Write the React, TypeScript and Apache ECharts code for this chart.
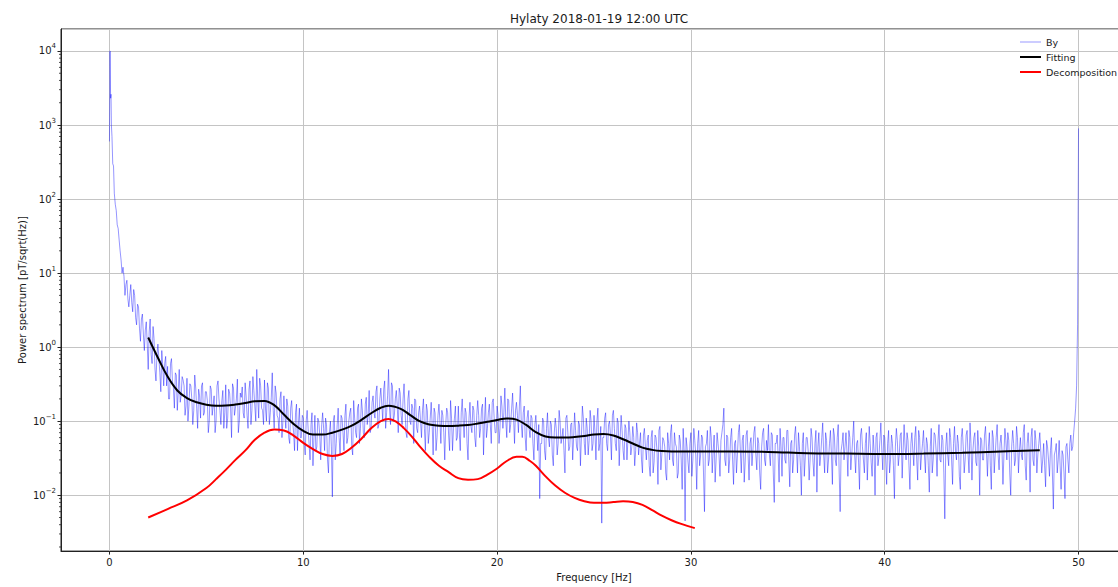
import React, { useEffect, useRef } from "react";
import * as echarts from "echarts";

const TITLE = "Hylaty 2018-01-19 12:00 UTC";
const X_NAME = "Frequency [Hz]";
const Y_NAME = "Power spectrum [pT/sqrt(Hz)]";
const X_MIN = -2.5;
const X_MAX = 52.5;
const Y_MIN = 0.00176;
const Y_MAX = 19800;

// By spectrum: fine head near 0 Hz, then values at 0.5, 0.6, ... 50.0 Hz (byVal)
// and at 0.55, 0.65, ... 49.95 Hz (byValMid)
const byHeadFreq = [0, 0.03, 0.06, 0.08, 0.1, 0.13, 0.17, 0.21, 0.25, 0.3, 0.35, 0.4, 0.45];
const byHeadVal = [600, 10000, 2300, 2600, 1000, 700, 300, 280, 120, 85, 70, 45, 40];
const byStart = 0.5;
const byStep = 0.1;
const byVal = [
  28, 15, 12, 5, 8,
  3.5, 7, 3, 5, 2, 3.5, 1.2, 2.8, 0.9, 2.2,
  0.5, 2.4, 0.6, 1.3, 0.35, 1.1, 0.45, 0.9, 0.3, 0.75,
  0.55, 0.2, 0.7, 0.28, 0.45, 0.14, 0.5, 0.22, 0.36, 0.12,
  0.38, 0.16, 0.3, 0.09, 0.42, 0.15, 0.27, 0.11, 0.33, 0.13,
  0.25, 0.07, 0.3, 0.12, 0.22, 0.1, 0.35, 0.14, 0.19, 0.08,
  0.31, 0.11, 0.24, 0.06, 0.28, 0.15, 0.37, 0.1, 0.21, 0.13,
  0.33, 0.12, 0.27, 0.09, 0.4, 0.16, 0.5, 0.11, 0.3, 0.14,
  0.36, 0.1, 0.28, 0.13, 0.45, 0.08, 0.24, 0.11, 0.2, 0.06,
  0.22, 0.08, 0.16, 0.05, 0.19, 0.07, 0.13, 0.04, 0.15, 0.06,
  0.11, 0.035, 0.14, 0.05, 0.09, 0.025, 0.12, 0.045, 0.1, 0.03,
  0.13, 0.04, 0.09, 0.02, 0.1, 0.0095, 0.12, 0.05, 0.15, 0.035,
  0.11, 0.04, 0.17, 0.06, 0.13, 0.045, 0.19, 0.07, 0.15, 0.05,
  0.2, 0.07, 0.17, 0.09, 0.26, 0.08, 0.22, 0.11, 0.3, 0.09,
  0.28, 0.1, 0.35, 0.13, 0.5, 0.09, 0.3, 0.12, 0.26, 0.07,
  0.24, 0.09, 0.32, 0.07, 0.2, 0.1, 0.17, 0.05, 0.19, 0.07,
  0.16, 0.06, 0.2, 0.04, 0.14, 0.07, 0.18, 0.035, 0.13, 0.06,
  0.17, 0.05, 0.12, 0.03, 0.15, 0.065, 0.19, 0.04, 0.11, 0.055,
  0.16, 0.04, 0.2, 0.06, 0.13, 0.03, 0.18, 0.07, 0.14, 0.045,
  0.19, 0.06, 0.15, 0.035, 0.21, 0.08, 0.17, 0.05, 0.2, 0.07,
  0.16, 0.05, 0.22, 0.08, 0.28, 0.06, 0.19, 0.09, 0.24, 0.05,
  0.18, 0.07, 0.3, 0.06, 0.16, 0.04, 0.14, 0.06, 0.11, 0.03,
  0.12, 0.04, 0.009, 0.05, 0.1, 0.03, 0.13, 0.045, 0.09, 0.025,
  0.11, 0.035, 0.14, 0.05, 0.08, 0.02, 0.12, 0.04, 0.09, 0.03,
  0.13, 0.045, 0.1, 0.025, 0.16, 0.05, 0.11, 0.035, 0.14, 0.04,
  0.12, 0.03, 0.15, 0.05, 0.0042, 0.06, 0.13, 0.04, 0.1, 0.03,
  0.14, 0.05, 0.11, 0.025, 0.12, 0.04, 0.09, 0.03, 0.1, 0.035,
  0.085, 0.025, 0.095, 0.035, 0.07, 0.02, 0.08, 0.03, 0.065, 0.018,
  0.075, 0.028, 0.06, 0.014, 0.085, 0.035, 0.055, 0.02, 0.07, 0.03,
  0.09, 0.025, 0.05, 0.017, 0.065, 0.03, 0.08, 0.0045, 0.045, 0.02,
  0.07, 0.03, 0.055, 0.012, 0.075, 0.035, 0.06, 0.006, 0.05, 0.025,
  0.085, 0.02, 0.065, 0.03, 0.05, 0.018, 0.07, 0.15, 0.025, 0.06,
  0.03, 0.08, 0.014, 0.055, 0.035, 0.09, 0.02, 0.065, 0.028, 0.075,
  0.016, 0.06, 0.04, 0.085, 0.022, 0.05, 0.012, 0.07, 0.03, 0.055,
  0.09, 0.025, 0.065, 0.008, 0.05, 0.035, 0.08, 0.018, 0.06, 0.027,
  0.075, 0.013, 0.055, 0.03, 0.085, 0.02, 0.045, 0.01, 0.07, 0.032,
  0.06, 0.016, 0.08, 0.028, 0.05, 0.011, 0.07, 0.035, 0.095, 0.02,
  0.055, 0.03, 0.075, 0.014, 0.065, 0.025, 0.09, 0.006, 0.05, 0.03,
  0.07, 0.018, 0.06, 0.035, 0.1, 0.02, 0.055, 0.012, 0.08, 0.03,
  0.05, 0.016, 0.085, 0.028, 0.065, 0.01, 0.07, 0.033, 0.095, 0.022,
  0.06, 0.014, 0.075, 0.03, 0.05, 0.009, 0.08, 0.025, 0.065, 0.017,
  0.09, 0.03, 0.055, 0.012, 0.07, 0.025, 0.085, 0.016, 0.06, 0.035,
  0.075, 0.02, 0.05, 0.011, 0.08, 0.03, 0.065, 0.018, 0.09, 0.028,
  0.055, 0.0048, 0.07, 0.025, 0.06, 0.014, 0.085, 0.03, 0.05, 0.012,
  0.08, 0.02, 0.065, 0.035, 0.095, 0.016, 0.06, 0.028, 0.075, 0.01,
  0.055, 0.03, 0.085, 0.018, 0.07, 0.012, 0.06, 0.035, 0.09, 0.022,
  0.065, 0.014, 0.08, 0.03, 0.055, 0.01, 0.075, 0.025, 0.085, 0.02,
  0.06, 0.03, 0.09, 0.016, 0.07, 0.011, 0.08, 0.025, 0.055, 0.035,
  0.07, 0.02, 0.05, 0.013, 0.045, 0.018, 0.06, 0.0065, 0.04, 0.02,
  0.055, 0.012, 0.035, 0.009, 0.05, 0.02, 0.065, 0.045, 0.1, 0.3,
  900,
];
const byValMid = [
  20, 10, 9, 7, 4.5,
  5, 4, 6, 2.5, 3.8, 1.8, 2.4, 1.5, 1.7, 1.1,
  1.6, 0.8, 1.9, 0.5, 0.8, 0.7, 0.25, 0.55, 0.6, 0.3,
  0.2, 0.6, 0.35, 0.15, 0.42, 0.25, 0.18, 0.4, 0.3, 0.16,
  0.1, 0.32, 0.2, 0.14, 0.28, 0.08, 0.22, 0.3, 0.12, 0.25,
  0.19, 0.1, 0.27, 0.16, 0.07, 0.3, 0.2, 0.09, 0.26, 0.13,
  0.08, 0.27, 0.15, 0.32, 0.12, 0.2, 0.07, 0.24, 0.29, 0.11,
  0.22, 0.08, 0.35, 0.14, 0.26, 0.1, 0.2, 0.38, 0.15, 0.09,
  0.15, 0.33, 0.09, 0.21, 0.14, 0.3, 0.12, 0.07, 0.25, 0.1,
  0.12, 0.2, 0.06, 0.15, 0.1, 0.04, 0.17, 0.09, 0.06, 0.12,
  0.05, 0.1, 0.08, 0.03, 0.13, 0.06, 0.04, 0.11, 0.065, 0.09,
  0.08, 0.11, 0.03, 0.07, 0.045, 0.1, 0.03, 0.09, 0.06, 0.12,
  0.07, 0.12, 0.05, 0.1, 0.15, 0.035, 0.11, 0.06, 0.17, 0.08,
  0.14, 0.06, 0.21, 0.12, 0.07, 0.18, 0.13, 0.25, 0.08, 0.2,
  0.17, 0.27, 0.08, 0.22, 0.15, 0.33, 0.1, 0.2, 0.16, 0.28,
  0.12, 0.2, 0.14, 0.06, 0.26, 0.09, 0.15, 0.2, 0.08, 0.13,
  0.1, 0.14, 0.08, 0.17, 0.05, 0.11, 0.09, 0.15, 0.04, 0.12,
  0.1, 0.14, 0.07, 0.09, 0.13, 0.04, 0.11, 0.08, 0.16, 0.06,
  0.07, 0.13, 0.1, 0.15, 0.05, 0.11, 0.085, 0.16, 0.06, 0.12,
  0.12, 0.08, 0.17, 0.1, 0.06, 0.13, 0.09, 0.18, 0.11, 0.07,
  0.12, 0.08, 0.16, 0.13, 0.1, 0.2, 0.07, 0.15, 0.11, 0.14,
  0.12, 0.16, 0.09, 0.13, 0.06, 0.11, 0.08, 0.12, 0.05, 0.09,
  0.07, 0.09, 0.05, 0.11, 0.04, 0.08, 0.06, 0.1, 0.035, 0.07,
  0.08, 0.05, 0.1, 0.06, 0.04, 0.11, 0.07, 0.045, 0.095, 0.06,
  0.075, 0.04, 0.09, 0.06, 0.11, 0.035, 0.08, 0.055, 0.1, 0.05,
  0.07, 0.1, 0.04, 0.085, 0.06, 0.11, 0.05, 0.09, 0.065, 0.12,
  0.08, 0.04, 0.095, 0.06, 0.075, 0.03, 0.08, 0.055, 0.07, 0.045,
  0.06, 0.04, 0.07, 0.05, 0.03, 0.065, 0.045, 0.055, 0.025, 0.06,
  0.02, 0.065, 0.04, 0.075, 0.022, 0.06, 0.045, 0.016, 0.05, 0.07,
  0.03, 0.07, 0.045, 0.02, 0.055, 0.012, 0.04, 0.06, 0.028, 0.05,
  0.018, 0.08, 0.035, 0.05, 0.025, 0.065, 0.02, 0.045, 0.075, 0.03,
  0.06, 0.04, 0.015, 0.07, 0.035, 0.055, 0.09, 0.03, 0.065, 0.02,
  0.06, 0.03, 0.05, 0.02, 0.07, 0.04, 0.055, 0.015, 0.065, 0.035,
  0.05, 0.025, 0.07, 0.035, 0.06, 0.02, 0.045, 0.08, 0.025, 0.04,
  0.035, 0.07, 0.02, 0.05, 0.065, 0.015, 0.045, 0.06, 0.03, 0.075,
  0.03, 0.05, 0.02, 0.065, 0.04, 0.07, 0.025, 0.05, 0.018, 0.06,
  0.04, 0.03, 0.06, 0.018, 0.075, 0.045, 0.025, 0.06, 0.035, 0.07,
  0.02, 0.05, 0.035, 0.08, 0.03, 0.06, 0.02, 0.04, 0.07, 0.045,
  0.04, 0.075, 0.022, 0.06, 0.035, 0.05, 0.028, 0.065, 0.045, 0.02,
  0.07, 0.035, 0.05, 0.018, 0.04, 0.06, 0.025, 0.055, 0.04, 0.065,
  0.03, 0.05, 0.02, 0.065, 0.025, 0.045, 0.055, 0.035, 0.07, 0.04,
  0.045, 0.07, 0.025, 0.05, 0.04, 0.06, 0.03, 0.075, 0.022, 0.05,
  0.035, 0.06, 0.025, 0.045, 0.02, 0.07, 0.04, 0.055, 0.03, 0.065,
  0.02, 0.045, 0.035, 0.08, 0.03, 0.05, 0.04, 0.065, 0.018, 0.06,
  0.045, 0.03, 0.075, 0.02, 0.05, 0.04, 0.07, 0.025, 0.045, 0.06,
  0.03, 0.065, 0.04, 0.045, 0.025, 0.075, 0.02, 0.06, 0.035, 0.05,
  0.04, 0.035, 0.055, 0.07, 0.02, 0.045, 0.05, 0.03, 0.06, 0.04,
  0.035, 0.07, 0.025, 0.05, 0.04, 0.06, 0.03, 0.075, 0.02, 0.05,
  0.04, 0.03, 0.025, 0.055, 0.03, 0.04, 0.02, 0.035, 0.05, 0.03,
  0.025, 0.04, 0.02, 0.045, 0.03, 0.05, 0.04, 0.07, 0.15, 2.0,
];

const fitFreq = [
  2.0, 2.5, 3.0, 3.5, 4.0, 4.5, 5.0, 5.5, 6.0, 6.5, 7.0, 7.5, 8.0, 8.5, 9.0, 9.5,
  10.0, 10.5, 11.0, 11.5, 12.0, 12.5, 13.0, 13.5, 14.0, 14.4, 15.0, 15.5, 16.0, 16.5,
  17.0, 17.5, 18.0, 18.5, 19.0, 19.5, 20.0, 20.5, 21.0, 21.5, 22.0, 22.5, 23.0, 23.5,
  24.0, 24.5, 25.0, 25.5, 26.0, 26.5, 27.0, 27.5, 28.0, 28.5, 29.0, 30, 32, 34, 36,
  38, 40, 42, 44, 46, 48,
];
const fitVal = [
  1.35, 0.72, 0.4, 0.26, 0.205, 0.18, 0.167, 0.162, 0.163, 0.168, 0.176, 0.186, 0.188,
  0.165, 0.123, 0.092, 0.074, 0.066, 0.066, 0.07, 0.077, 0.087, 0.104, 0.128, 0.152,
  0.162, 0.148, 0.122, 0.1, 0.09, 0.087, 0.086, 0.087, 0.089, 0.093, 0.098, 0.104,
  0.109, 0.105, 0.089, 0.071, 0.062, 0.06, 0.06, 0.061, 0.063, 0.066, 0.067, 0.064,
  0.057, 0.05, 0.044, 0.041, 0.0395, 0.039, 0.039, 0.039, 0.0385, 0.037, 0.0365,
  0.036, 0.0365, 0.0375, 0.039, 0.0405,
];

const decFreq = [
  2.0, 3.0, 4.0, 5.0, 5.5, 6.0, 6.5, 7.0, 7.5, 8.0, 8.5, 9.0, 9.5, 10.0, 10.5, 11.0,
  11.5, 12.0, 12.5, 13.0, 13.5, 14.0, 14.4, 14.8, 15.2, 15.6, 16.0, 16.5, 17.0, 17.5,
  18.0, 18.5, 19.0, 19.5, 20.0, 20.5, 21.0, 21.3, 21.7, 22.0, 22.5, 23.0, 23.5, 24.0,
  24.5, 25.0, 25.5, 26.0, 26.5, 27.0, 27.5, 28.0, 28.5, 29.0, 29.5, 30.2,
];
const decVal = [
  0.005, 0.0065, 0.0085, 0.0125, 0.0165, 0.022, 0.03, 0.04, 0.056, 0.07, 0.077, 0.075,
  0.064, 0.051, 0.042, 0.036, 0.034, 0.036, 0.044, 0.058, 0.08, 0.1, 0.107, 0.098, 0.08,
  0.062, 0.046, 0.033, 0.025, 0.0205, 0.017, 0.0162, 0.0165, 0.019, 0.023, 0.029, 0.033,
  0.033, 0.029, 0.025, 0.018, 0.0135, 0.0108, 0.0092, 0.0083, 0.0079, 0.0079, 0.0081,
  0.0083, 0.0081, 0.0074, 0.0063, 0.0053, 0.0046, 0.0041, 0.0036,
];

const TEXT = "#1a1a1a";
const FONT = "DejaVu Sans";

export default function App() {
  const ref = useRef<HTMLDivElement>(null);
  useEffect(() => {
    if (!ref.current) return;
    const chart = echarts.init(ref.current, undefined, { renderer: "svg" });

    const byData: number[][] = byHeadFreq.map((f, i) => [f, byHeadVal[i]]);
    byVal.forEach((v, i) => {
      const f = Math.round((byStart + i * byStep) * 100) / 100;
      byData.push([f, v]);
      if (i < byValMid.length) byData.push([Math.round((f + byStep / 2) * 100) / 100, byValMid[i]]);
    });
    const fitData = fitFreq.map((f, i) => [f, fitVal[i]]);
    const decData = decFreq.map((f, i) => [f, decVal[i]]);

    const minorTicks: number[][] = [];
    for (let k = -3; k <= 4; k++) {
      for (let m = 2; m <= 9; m++) {
        const v = m * Math.pow(10, k);
        if (v > Y_MIN && v < Y_MAX) minorTicks.push([X_MIN, v]);
      }
    }

    const supFmt = (v: number) => {
      const e = Math.round(Math.log10(v));
      const s = e < 0 ? "\u2212" + -e : String(e);
      return `{b|10}{s|${s}}`;
    };

    chart.setOption({
      animation: false,
      textStyle: { fontFamily: FONT, color: TEXT },
      title: {
        text: TITLE,
        left: 594,
        top: 8,
        textAlign: "center",
        textStyle: { fontFamily: FONT, fontSize: 12, fontWeight: "normal", color: TEXT },
      },
      legend: {
        orient: "vertical",
        left: 1015,
        top: 31,
        itemWidth: 21,
        itemHeight: 2,
        itemGap: 3,
        icon: "rect",
        textStyle: { fontFamily: FONT, fontSize: 9.5, color: TEXT, lineHeight: 12 },
        data: [
          { name: "By", itemStyle: { color: "#ccccff" } },
          { name: "Fitting", itemStyle: { color: "#000000" } },
          { name: "Decomposition", itemStyle: { color: "#ff0000" } },
        ],
      },
      grid: {
        left: 61,
        top: 29,
        width: 1066,
        height: 524,
        show: true,
        borderColor: "#222",
        borderWidth: 1,
        backgroundColor: "transparent",
      },
      xAxis: {
        type: "value",
        min: X_MIN,
        max: X_MAX,
        splitNumber: 5,
        name: X_NAME,
        nameLocation: "middle",
        nameGap: 20,
        nameTextStyle: { fontFamily: FONT, fontSize: 10, color: TEXT },
        axisLine: { show: true, onZero: false, lineStyle: { color: "#222", width: 1 } },
        axisTick: { show: true, inside: false, length: 3.5, lineStyle: { color: "#222" } },
        axisLabel: {
          fontFamily: FONT,
          fontSize: 10,
          color: TEXT,
          margin: 6,
          showMinLabel: false,
          showMaxLabel: false,
        },
        splitLine: { show: true, lineStyle: { color: "#c4c4c4", width: 1 } },
      },
      yAxis: {
        type: "log",
        logBase: 10,
        min: Y_MIN,
        max: Y_MAX,
        splitNumber: 7,
        name: Y_NAME,
        nameLocation: "middle",
        nameGap: 34,
        nameMoveOverlap: false,
        nameTextStyle: { fontFamily: FONT, fontSize: 10, color: TEXT },
        axisLine: { show: true, onZero: false, lineStyle: { color: "#222", width: 1 } },
        axisTick: { show: true, inside: false, length: 3.5, lineStyle: { color: "#222" } },
        axisLabel: {
          fontFamily: FONT,
          margin: 5,
          showMinLabel: false,
          showMaxLabel: false,
          formatter: supFmt,
          rich: {
            b: { fontFamily: FONT, fontSize: 10, lineHeight: 16, color: TEXT },
            s: { fontFamily: FONT, fontSize: 7, lineHeight: 8, verticalAlign: "top", color: TEXT },
          },
        },
        splitLine: { show: true, lineStyle: { color: "#c4c4c4", width: 1 } },
      },
      series: [
        {
          name: "By",
          type: "line",
          data: byData,
          showSymbol: false,
          symbol: "none",
          lineStyle: { color: "rgba(0,0,255,0.6)", width: 0.7 },
          itemStyle: { color: "#ccccff" },
          z: 2,
        },
        {
          name: "Fitting",
          type: "line",
          data: fitData,
          showSymbol: false,
          symbol: "none",
          smooth: 0.4,
          lineStyle: { color: "#000000", width: 2 },
          itemStyle: { color: "#000000" },
          z: 3,
        },
        {
          name: "Decomposition",
          type: "line",
          data: decData,
          showSymbol: false,
          symbol: "none",
          smooth: 0.4,
          lineStyle: { color: "#ff0000", width: 2 },
          itemStyle: { color: "#ff0000" },
          z: 4,
        },
        {
          name: "minorTicks",
          type: "custom",
          data: minorTicks,
          clip: false,
          silent: true,
          z: 5,
          renderItem: (_p: any, api: any) => {
            const pt = api.coord([api.value(0), api.value(1)]);
            return {
              type: "line",
              shape: { x1: pt[0], y1: pt[1], x2: pt[0] - 2, y2: pt[1] },
              style: { stroke: "#222", lineWidth: 0.8 },
            };
          },
        },
      ],
    });
    return () => chart.dispose();
  }, []);
  return (
    <div
      style={{
        position: "fixed",
        left: 0,
        top: 0,
        width: 1118,
        height: 587,
        overflow: "hidden",
        background: "#fff",
      }}
    >
      <div ref={ref} style={{ width: 1140, height: 587 }} />
    </div>
  );
}
